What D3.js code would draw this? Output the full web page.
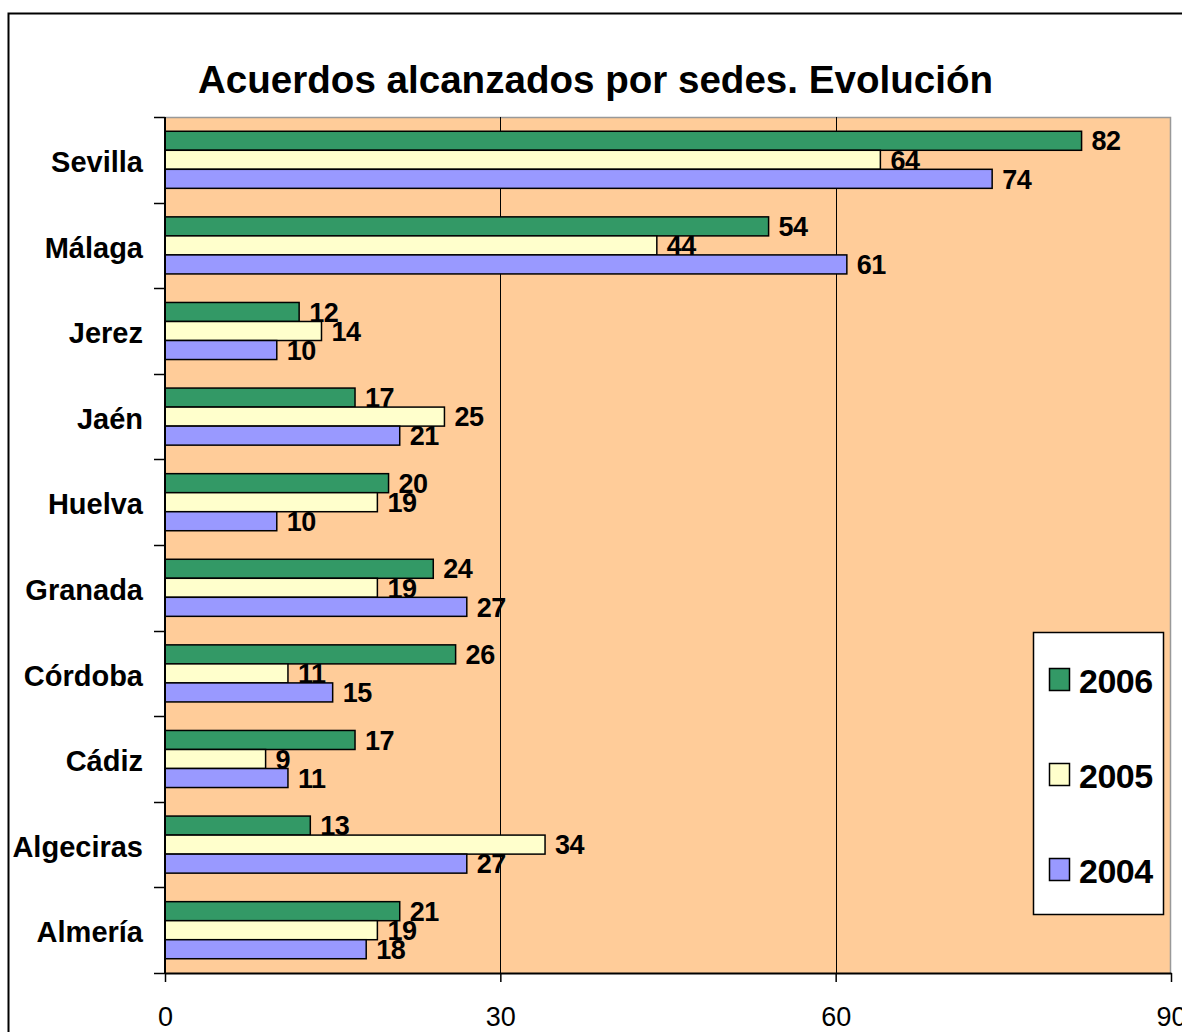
<!DOCTYPE html>
<html>
<head>
<meta charset="utf-8">
<script src="https://cdn.jsdelivr.net/npm/d3@7/dist/d3.min.js"></script>
<style>
  html, body { margin: 0; padding: 0; background: #fff; }
  svg { display: block; }
  text { font-family: "Liberation Sans", Arial, sans-serif; }
</style>
</head>
<body>
<svg id="chart" width="1182" height="1032"></svg>
<script>
const title = "Acuerdos alcanzados por sedes. Evolución";
const categories = ["Sevilla", "Málaga", "Jerez", "Jaén", "Huelva", "Granada", "Córdoba", "Cádiz", "Algeciras", "Almería"];
const seriesNames = ["2006", "2005", "2004"];
const values2006 = [82, 54, 12, 17, 20, 24, 26, 17, 13, 21];
const values2005 = [64, 44, 14, 25, 19, 19, 11, 9, 34, 19];
const values2004 = [74, 61, 10, 21, 10, 27, 15, 11, 27, 18];
const xTicks = [0, 30, 60, 90];
const colors = ["#339966", "#FFFFCC", "#9999FF"];

const seriesValues = [values2006, values2005, values2004];

const svg = d3.select("#chart");
const plot = { left: 165, right: 1171, top: 117, bottom: 973 };

// outer border (extends past right/bottom edges)
svg.append("rect")
  .attr("x", 8.5).attr("y", 13.5)
  .attr("width", 1250).attr("height", 1100)
  .attr("fill", "#fff").attr("stroke", "#000").attr("stroke-width", 2);

const x = d3.scaleLinear().domain([0, 90]).range([plot.left, plot.right]);
const y0 = d3.scaleBand().domain(categories).range([plot.top, plot.bottom]).padding(0);
const y1 = d3.scaleBand().domain(seriesNames).range([0, y0.bandwidth()]).paddingInner(0).paddingOuter(0.75);

// plot background
svg.append("rect")
  .attr("x", plot.left).attr("y", plot.top)
  .attr("width", plot.right - plot.left).attr("height", plot.bottom - plot.top)
  .attr("fill", "#FFCC99");

// top and right plot border (gray)
svg.append("path")
  .attr("d", `M${plot.left},${plot.top + 0.5}H${plot.right - 0.5}V${plot.bottom}`)
  .attr("fill", "none").attr("stroke", "#999").attr("stroke-width", 1.5);

// vertical gridlines
svg.append("g").selectAll("line")
  .data(xTicks.filter(t => t > 0 && t < 90))
  .join("line")
  .attr("x1", d => Math.round(x(d)) + 0.5).attr("x2", d => Math.round(x(d)) + 0.5)
  .attr("y1", plot.top).attr("y2", plot.bottom)
  .attr("stroke", "#000").attr("stroke-width", 1);

// bars
const groups = svg.append("g").selectAll("g")
  .data(categories)
  .join("g")
  .attr("transform", d => `translate(0,${y0(d)})`);

groups.selectAll("rect")
  .data((c, i) => seriesNames.map((s, j) => ({ s, j, v: seriesValues[j][i] })))
  .join("rect")
  .attr("x", x(0))
  .attr("y", d => y1(d.s))
  .attr("width", d => x(d.v) - x(0))
  .attr("height", y1.bandwidth())
  .attr("fill", d => colors[d.j])
  .attr("stroke", "#000").attr("stroke-width", 1.5);

groups.selectAll("text")
  .data((c, i) => seriesNames.map((s, j) => ({ s, j, v: seriesValues[j][i] })))
  .join("text")
  .attr("x", d => x(d.v) + 10)
  .attr("y", d => y1(d.s) + y1.bandwidth() / 2)
  .attr("dy", "0.36em")
  .attr("font-size", 27).attr("font-weight", "bold")
  .attr("letter-spacing", -0.5)
  .text(d => d.v);

// y axis
const yAxis = d3.axisLeft(y0).tickSize(0).tickPadding(22);
const ya = svg.append("g").attr("transform", `translate(${plot.left},0)`).call(yAxis);
ya.select(".domain").remove();
ya.selectAll("text")
  .attr("font-size", 29).attr("font-weight", "bold")
  .attr("fill", "#000")
  .attr("font-family", "Liberation Sans, Arial, sans-serif")
  .attr("dy", "0.42em");
// category boundary ticks
svg.append("g").selectAll("line")
  .data(d3.range(categories.length + 1))
  .join("line")
  .attr("x1", plot.left - 11).attr("x2", plot.left)
  .attr("y1", i => Math.round(plot.top + i * y0.step()) + 0.5)
  .attr("y2", i => Math.round(plot.top + i * y0.step()) + 0.5)
  .attr("stroke", "#000").attr("stroke-width", 1.5);
svg.append("line")
  .attr("x1", plot.left).attr("x2", plot.left)
  .attr("y1", plot.top).attr("y2", plot.bottom)
  .attr("stroke", "#000").attr("stroke-width", 2);

// x axis
const xAxis = d3.axisBottom(x).tickValues(xTicks).tickSize(9).tickPadding(25).tickSizeOuter(0);
const xa = svg.append("g").attr("transform", `translate(0,${plot.bottom})`).call(xAxis);
xa.select(".domain").attr("stroke-width", 2);
xa.selectAll(".tick line").attr("stroke-width", 1.5);
xa.selectAll("text")
  .attr("font-size", 27)
  .attr("fill", "#000")
  .attr("font-family", "Liberation Sans, Arial, sans-serif");

// title
svg.append("text")
  .attr("x", 595.5).attr("y", 93)
  .attr("text-anchor", "middle")
  .attr("font-size", 39).attr("font-weight", "bold")
  .attr("textLength", 795).attr("lengthAdjust", "spacingAndGlyphs")
  .text(title);

// legend
const legend = svg.append("g");
legend.append("rect")
  .attr("x", 1033.5).attr("y", 632.5).attr("width", 130).attr("height", 282)
  .attr("fill", "#fff").attr("stroke", "#000").attr("stroke-width", 1.5);
const legendY = d3.scalePoint().domain(seriesNames).range([680, 870]);
const li = legend.selectAll("g.item").data(seriesNames).join("g").attr("class", "item")
  .attr("transform", d => `translate(0,${legendY(d)})`);
li.append("rect")
  .attr("x", 1049.5).attr("y", -11.5).attr("width", 20).attr("height", 22)
  .attr("fill", (d, i) => colors[i]).attr("stroke", "#000").attr("stroke-width", 1.5);
li.append("text")
  .attr("x", 1079).attr("y", 0).attr("dy", "0.38em")
  .attr("font-size", 34).attr("font-weight", "bold")
  .attr("letter-spacing", -0.5)
  .text(d => d);
</script>
</body>
</html>
